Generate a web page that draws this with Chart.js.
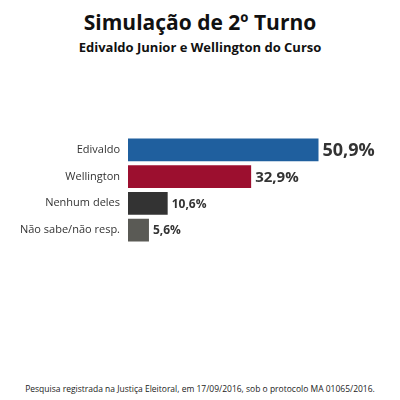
<!DOCTYPE html>
<html><head><meta charset="utf-8">
<script src="https://cdn.jsdelivr.net/npm/chart.js@4"></script>
<style>
body{margin:0;width:400px;height:400px;background:#fff;font-family:"Open Sans",sans-serif;position:relative;overflow:hidden}
.t{position:absolute;left:0;width:400px;text-align:center;color:#111;font-weight:bold}
#c{position:absolute;left:0;top:130px}
</style></head><body>
<div class="t" style="top:8px;font-size:21px">Simulação de 2º Turno</div>
<div class="t" style="top:38px;font-size:13px">Edivaldo Junior e Wellington do Curso</div>
<canvas id="c" width="400" height="120" style="width:400px;height:120px"></canvas>
<div class="t" style="top:383px;font-size:8.5px;font-weight:normal;color:#222">Pesquisa registrada na Justiça Eleitoral, em 17/09/2016, sob o protocolo MA 01065/2016.</div>
<script>
const categories=["Edivaldo","Wellington","Nenhum deles","Não sabe/não resp."];
const values=[50.9,32.9,10.6,5.6];
const colors=["#1f5f9e","#9c0f2f","#333333","#5a5a55"];
const labelSizes=[18,15,12,12];
const valLabels={id:"vl",afterDatasetsDraw(ch){const ctx=ch.ctx;const m=ch.getDatasetMeta(0);
m.data.forEach((b,i)=>{ctx.save();ctx.font="bold "+labelSizes[i]+"px 'Open Sans'";ctx.fillStyle="#333";ctx.textBaseline="middle";
ctx.fillText(values[i].toFixed(1).replace(".",",")+"%",b.x+4,b.y+1);ctx.restore();});}};
new Chart(document.getElementById("c"),{type:"bar",
data:{labels:categories,datasets:[{data:values,backgroundColor:colors,barPercentage:0.85,categoryPercentage:1}]},
options:{indexAxis:"y",responsive:false,animation:false,devicePixelRatio:1,
layout:{padding:{right:10,top:0,bottom:0}},
plugins:{legend:{display:false},tooltip:{enabled:false}},
scales:{x:{min:0,max:70,display:false},
y:{grid:{display:false},border:{display:false},ticks:{color:"#333",font:{size:11,family:"'Open Sans'"},padding:0},
afterFit(s){s.width=128;}}}},
plugins:[valLabels]});
</script></body></html>
